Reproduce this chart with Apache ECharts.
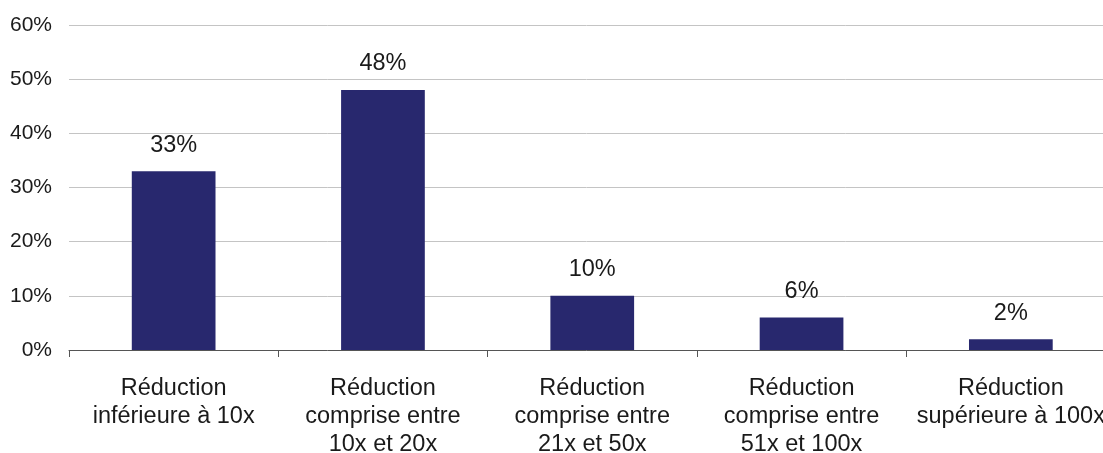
<!DOCTYPE html>
<html>
<head>
<meta charset="utf-8">
<script src="https://cdn.jsdelivr.net/npm/echarts@6/dist/echarts.min.js"></script>
<style>
  html, body { margin: 0; padding: 0; background: #fff; }
  #chart { width: 1103px; height: 453px; }
</style>
</head>
<body>
<div id="chart"></div>
<script>
// categories and values (%)
const categories = [
  'Réduction\ninférieure à 10x',
  'Réduction\ncomprise entre\n10x et 20x',
  'Réduction\ncomprise entre\n21x et 50x',
  'Réduction\ncomprise entre\n51x et 100x',
  'Réduction\nsupérieure à 100x'
];
const values = [33, 48, 10, 6, 2];
const yTicks = { min: 0, max: 60, interval: 10 };

const chart = echarts.init(document.getElementById('chart'));
const font = 'Liberation Sans, Arial, sans-serif';

chart.setOption({
  animation: false,
  grid: {
    left: 69, right: -12.5, top: 25, bottom: 103,
    containLabel: false,
    outerBoundsMode: 'none' // let the last label run off the edge like the original
  },
  xAxis: {
    type: 'category',
    data: categories,
    axisLine: { lineStyle: { color: '#555', width: 1 } },
    axisTick: { show: true, length: 7, lineStyle: { color: '#555' } },
    axisLabel: {
      interval: 0,
      margin: 25,
      color: '#1a1a1a',
      fontFamily: font,
      fontSize: 23.5,
      lineHeight: 28
    }
  },
  yAxis: {
    type: 'value',
    min: yTicks.min,
    max: yTicks.max,
    interval: yTicks.interval,
    axisLine: { show: false },
    axisTick: { show: false },
    splitLine: { lineStyle: { color: '#c4c4c4', width: 1 } },
    axisLabel: {
      formatter: '{value}%',
      margin: 17,
      color: '#1a1a1a',
      fontFamily: font,
      fontSize: 21
    }
  },
  series: [{
    type: 'bar',
    data: values,
    barWidth: '40%',
    itemStyle: { color: '#28286e' },
    label: {
      show: true,
      position: 'top',
      distance: 14,
      formatter: '{c}%',
      color: '#1a1a1a',
      fontFamily: font,
      fontSize: 23.5
    }
  }]
});
</script>
</body>
</html>
